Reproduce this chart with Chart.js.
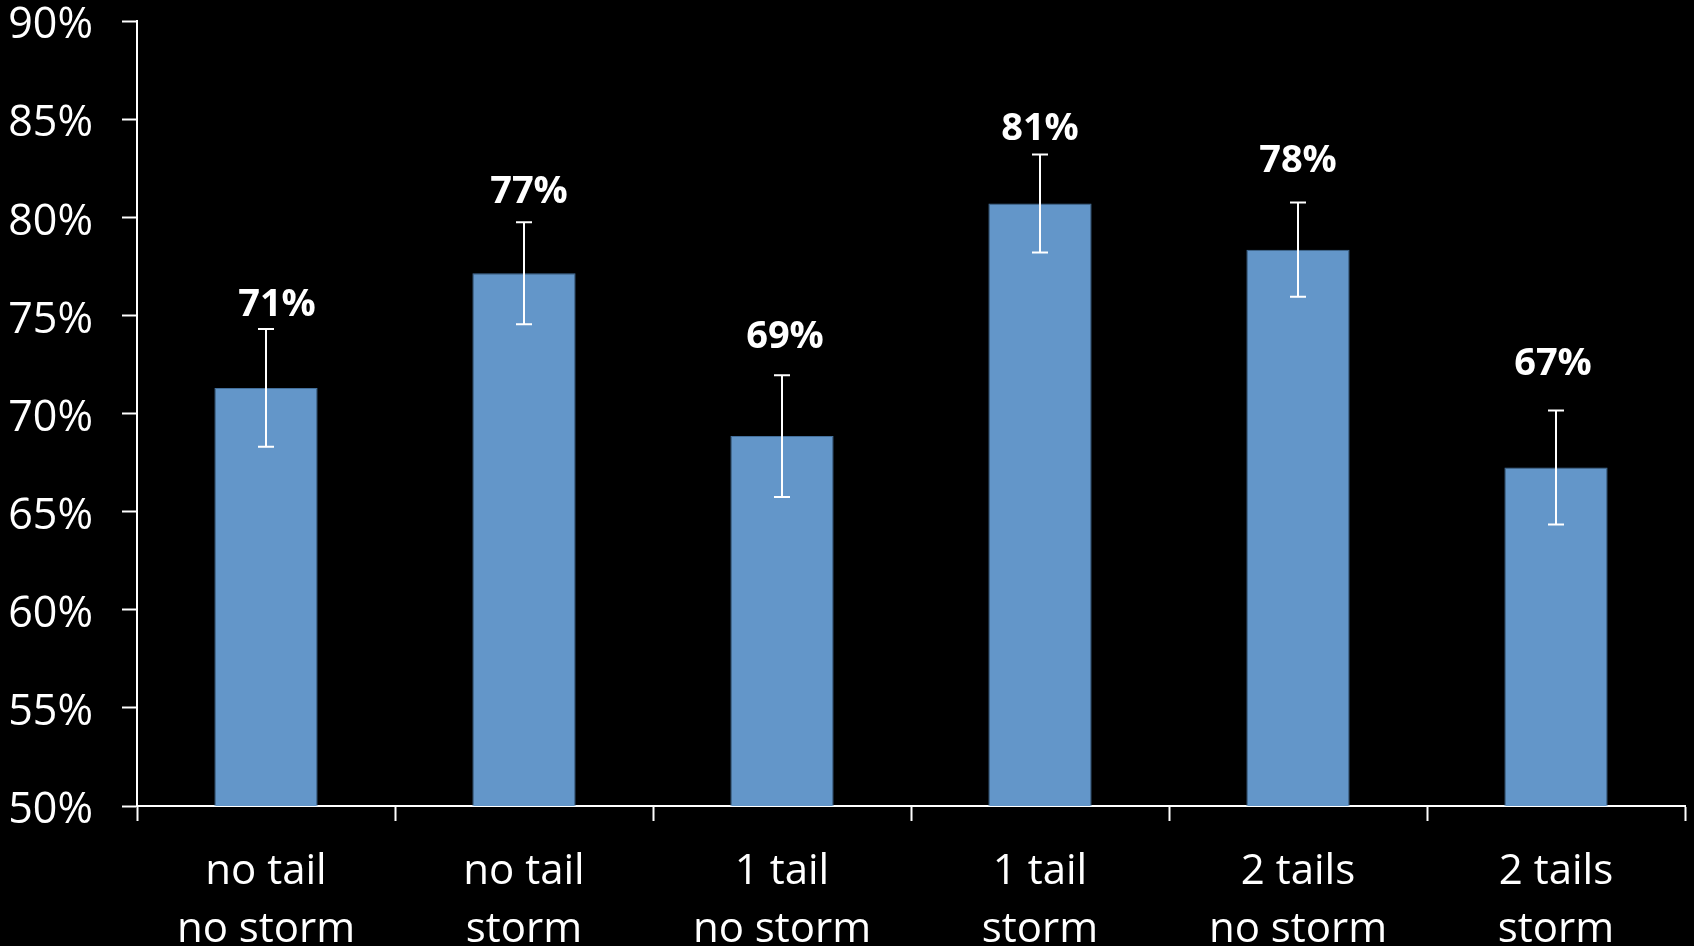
<!DOCTYPE html>
<html lang="en">
<head>
    <meta charset="UTF-8">
    <title>Success rate by tail and storm</title>
    <script src="https://cdn.jsdelivr.net/npm/chart.js"></script>
    <style>
        html, body { margin: 0; padding: 0; background: #000; }
        #wrap { width: 1694px; height: 946px; position: relative; }
    </style>
</head>
<body>
    <div id="wrap">
        <canvas id="barChart"></canvas>
    </div>
    <script>
    const categories = [
        ['no tail', 'no storm'],
        ['no tail', 'storm'],
        ['1 tail', 'no storm'],
        ['1 tail', 'storm'],
        ['2 tails', 'no storm'],
        ['2 tails', 'storm']
    ];
    const values = [71.3, 77.15, 68.85, 80.7, 78.35, 67.25];
    const errors = [3.0, 2.6, 3.1, 2.5, 2.4, 2.9];
    const yMin = 50;
    const yMax = 90;
    const yStep = 5;

    // error bars plus the bold percent label above each one
    const errorBarPlugin = {
        id: 'errorBars',
        afterDatasetsDraw(chart) {
            const ctx = chart.ctx;
            const yScale = chart.scales.y;
            const meta = chart.getDatasetMeta(0);
            // labels were hand placed in the original, nudge them the same way
            const gapAbove = [13, 19, 27, 14, 31, 36];
            const shiftX = [11, 5, 3, 0, 0, -3];
            ctx.save();
            ctx.strokeStyle = '#ffffff';
            ctx.lineWidth = 2;
            meta.data.forEach(function (bar, i) {
                const x = bar.x;
                const top = yScale.getPixelForValue(values[i] + errors[i]);
                const bottom = yScale.getPixelForValue(values[i] - errors[i]);
                ctx.beginPath();
                ctx.moveTo(x, top);
                ctx.lineTo(x, bottom);
                ctx.moveTo(x - 8, top);
                ctx.lineTo(x + 8, top);
                ctx.moveTo(x - 8, bottom);
                ctx.lineTo(x + 8, bottom);
                ctx.stroke();

                ctx.fillStyle = '#ffffff';
                ctx.font = 'bold 38px "Open Sans"';
                ctx.textAlign = 'center';
                ctx.textBaseline = 'alphabetic';
                ctx.fillText(Math.round(values[i]) + '%', x + shiftX[i], top - gapAbove[i]);
            });
            ctx.restore();
        }
    };

    const ctx = document.getElementById('barChart').getContext('2d');
    new Chart(ctx, {
        type: 'bar',
        data: {
            labels: categories,
            datasets: [{
                data: values,
                backgroundColor: '#6396c9',
                borderColor: '#44709c',
                borderWidth: 1,
                barPercentage: 0.4,
                categoryPercentage: 1.0
            }]
        },
        options: {
            responsive: true,
            maintainAspectRatio: false,
            animation: false,
            layout: {
                padding: { top: 21, right: 9, bottom: 0, left: 0 }
            },
            plugins: {
                legend: { display: false },
                tooltip: { enabled: false }
            },
            scales: {
                x: {
                    offset: true,
                    grid: {
                        offset: true,
                        drawOnChartArea: false,
                        drawTicks: true,
                        tickLength: 15,
                        tickWidth: 2,
                        tickColor: '#ffffff'
                    },
                    border: { display: true, color: '#ffffff', width: 2 },
                    ticks: {
                        color: '#ffffff',
                        font: { family: 'Open Sans', size: 42, lineHeight: 1.38 },
                        padding: 22,
                        maxRotation: 0,
                        autoSkip: false
                    },
                    afterFit(scale) {
                        scale.height = 140;
                        scale.paddingLeft = 0;
                        scale.paddingRight = 0;
                    }
                },
                y: {
                    min: yMin,
                    max: yMax,
                    grid: {
                        drawOnChartArea: false,
                        drawTicks: true,
                        tickLength: 15,
                        tickWidth: 2,
                        tickColor: '#ffffff'
                    },
                    border: { display: true, color: '#ffffff', width: 2 },
                    ticks: {
                        stepSize: yStep,
                        color: '#ffffff',
                        font: { family: 'Open Sans', size: 43, lineHeight: 1.0 },
                        padding: 29,
                        labelOffset: 5,
                        callback: function (v) { return v + '%'; }
                    },
                    afterFit(scale) {
                        scale.width = 137;
                        scale.paddingTop = 0;
                        scale.paddingBottom = 0;
                    }
                }
            }
        },
        plugins: [errorBarPlugin]
    });
    </script>
</body>
</html>
